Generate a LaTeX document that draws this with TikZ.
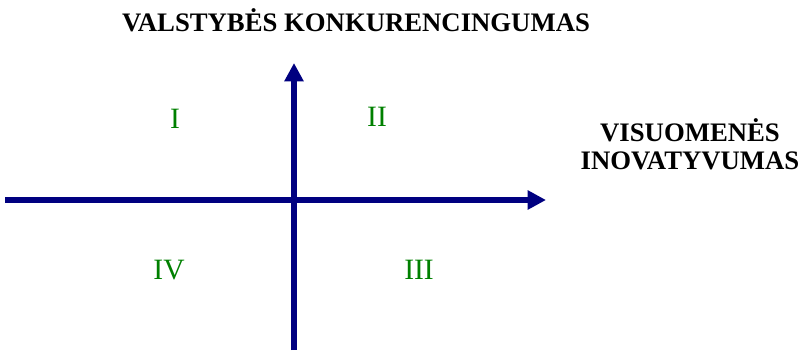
\documentclass[tikz,border=0pt]{standalone}
\usepackage{fontspec}
\setmainfont{Liberation Serif}
\usetikzlibrary{arrows.meta,positioning}
\definecolor{navy}{RGB}{0,0,128}
\definecolor{leaf}{RGB}{0,128,0}
\tikzset{
  axis/.style={-{Triangle[length=4.6mm,width=4.6mm]},line width=4.3pt,draw=navy},
  quad/.style={text=leaf,font=\fontsize{21}{25}\selectfont},
  caption/.style={font=\fontsize{19}{20}\selectfont\bfseries,align=center},
}
\begin{document}
\begin{tikzpicture}[x=0.025cm,y=-0.025cm]
  \useasboundingbox (0,0) rectangle (804,350);
  % axes
  \coordinate (W) at (5,200);
  \coordinate (E) at (546,200);
  \coordinate (S) at (294,350);
  \coordinate (N) at (294,63);
  \draw[axis] (W) -- (E);
  \draw[axis] (S) -- (N);
  % captions
  \node[caption] (ytitle) at (356,20) {VALSTYBĖS KONKURENCINGUMAS};
  \node[caption] (xtitle) at (690,144) {VISUOMENĖS\\INOVATYVUMAS};
  % quadrants
  \node[quad] (q1) at (175,119) {I};
  \node[quad] (q2) at (377,117) {II};
  \node[quad] (q3) at (419,270) {III};
  \node[quad] (q4) at (169,270) {IV};
\end{tikzpicture}
\end{document}
